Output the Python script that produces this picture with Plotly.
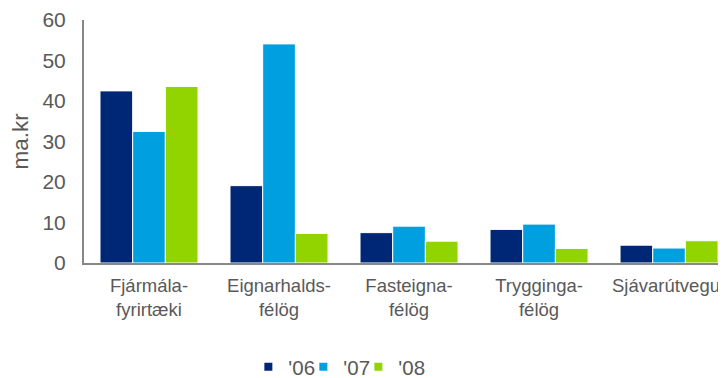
import plotly.graph_objects as go

categories = ["Fjármála-<br>fyrirtæki", "Eignarhalds-<br>félög", "Fasteigna-<br>félög", "Trygginga-<br>félög", "Sjávarútvegur"]
series_names = ["'06", "'07", "'08"]
v06 = [42.5, 19.1, 7.5, 8.3, 4.4]
v07 = [32.5, 54.1, 9.1, 9.6, 3.7]
v08 = [43.6, 7.3, 5.4, 3.6, 5.5]
colors = ["#002776", "#00A0E0", "#92D400"]
y_ticks = [0, 10, 20, 30, 40, 50, 60]

x_idx = list(range(len(categories)))
fig = go.Figure()
for name, vals, col in zip(series_names, [v06, v07, v08], colors):
    fig.add_trace(go.Bar(x=x_idx, y=vals, name=name, showlegend=False,
                         marker=dict(color=col, line=dict(color="white", width=1))))
# legend entries with small square swatches
for name, col in zip(series_names, colors):
    fig.add_trace(go.Scatter(x=[None], y=[None], mode="markers", name=name,
                             marker=dict(symbol="square", size=8, color=col)))
# empty spacer entry so the last legend label is not clipped by the compact entry width
fig.add_trace(go.Scatter(x=[None], y=[None], mode="markers", name=" ", hoverinfo="skip",
                         marker=dict(symbol="square", size=8, color="rgba(0,0,0,0)")))

font = "Liberation Sans, Arial, sans-serif"
# page body has an 8px margin: compensate so the plot sits where the reference has it
fig.update_layout(
    width=718, height=370,
    margin=dict(l=76, r=0, t=12, b=115, autoexpand=False),
    paper_bgcolor="white", plot_bgcolor="white",
    barmode="group", bargap=0.246, bargroupgap=0.0,
    font=dict(family=font, color="#595959"),
    showlegend=True,
    legend=dict(orientation="h", x=0.256, xanchor="left",
                y=-0.428, yanchor="middle", font=dict(size=20.5, color="#595959"),
                traceorder="normal", itemwidth=30, entrywidth=10),
)
fig.update_xaxes(
    tickmode="array", tickvals=x_idx, ticktext=categories,
    range=[-0.5, 4.438], showline=True, linecolor="#878787", linewidth=2,
    tickfont=dict(size=18.5, color="#595959"), ticks="", showgrid=False, zeroline=False,
    tickangle=0, automargin=False, ticklabelstandoff=5, ticklabeloverflow="allow",
)
fig.update_yaxes(
    range=[0, 60], tickvals=y_ticks, showline=True, linecolor="#878787", linewidth=2,
    tickfont=dict(size=21, color="#595959"), ticks="", showgrid=False, zeroline=False,
    title=dict(text="ma.kr", font=dict(size=22.5, color="#595959"), standoff=8),
    automargin=False, ticklabelstandoff=12,
)
fig.write_html("out.html")
